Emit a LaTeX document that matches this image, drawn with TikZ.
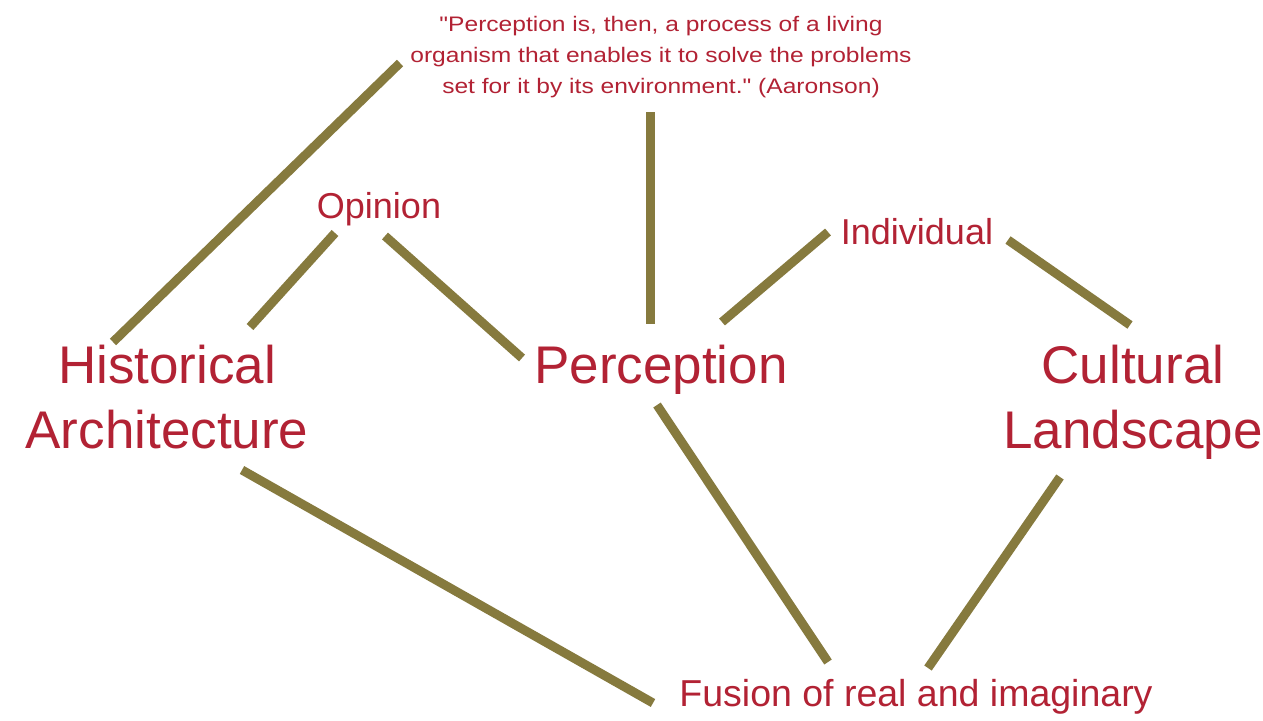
\documentclass[tikz,border=0pt]{standalone}
\usepackage{fontspec}
\setmainfont{Liberation Sans}
\newfontfamily\quotefont[FakeStretch=1.17]{Liberation Sans}
\definecolor{txtred}{RGB}{178,34,52}
\definecolor{linecol}{RGB}{134,122,62}
\begin{document}
\begin{tikzpicture}[x=1pt,y=-1pt,
  lbl/.style={text=txtred, inner sep=0pt, anchor=base, align=center},
  big/.style={lbl, font=\fontsize{53}{65}\selectfont},
  mid/.style={lbl, font=\fontsize{36}{43}\selectfont},
  quotetext/.style={lbl, font=\quotefont\fontsize{21}{31}\selectfont},
  link/.style={draw=linecol, line width=9pt}]
\useasboundingbox[fill=white] (0,0) rectangle (1263,720);

% texts (anchor=base is the baseline of the last line)
\node[quotetext] (quote) at (661,93) {"Perception is, then, a process of a living\\organism that enables it to solve the problems\\set for it by its environment." (Aaronson)};
\node[mid] (opinion) at (379,218) {Opinion};
\node[mid] (individual) at (917,244) {Individual};
\node[big] (hist) at (167,448) {Historical\\Architecture};
\node[big] (perc) at (661,383) {Perception};
\node[big] (cult) at (1133,448) {Cultural\\Landscape};
\node[mid, font=\fontsize{37.5}{43}\selectfont] (fusion) at (916,706) {Fusion of real and imaginary};

% connector end points
\coordinate (histQ) at (113,342);
\coordinate (quoteH) at (400,63);
\coordinate (histO) at (250,327);
\coordinate (opinionH) at (335,233);
\coordinate (opinionP) at (385,236);
\coordinate (percO) at (522,358);
\coordinate (quoteP) at (650,112);
\coordinate (percQ) at (650,324);
\coordinate (percI) at (722,322);
\coordinate (individualP) at (828,232);
\coordinate (individualC) at (1008,240);
\coordinate (cultI) at (1130,325);
\coordinate (histF) at (242,470);
\coordinate (fusionH) at (653,703);
\coordinate (percF) at (657,405);
\coordinate (fusionP) at (828,662);
\coordinate (cultF) at (1060,477);
\coordinate (fusionC) at (928,668);

% connectors
\draw[link] (histQ) -- (quoteH);
\draw[link] (histO) -- (opinionH);
\draw[link] (opinionP) -- (percO);
\draw[link] (quoteP) -- (percQ);
\draw[link] (percI) -- (individualP);
\draw[link] (individualC) -- (cultI);
\draw[link] (histF) -- (fusionH);
\draw[link] (percF) -- (fusionP);
\draw[link] (cultF) -- (fusionC);
\end{tikzpicture}
\end{document}
